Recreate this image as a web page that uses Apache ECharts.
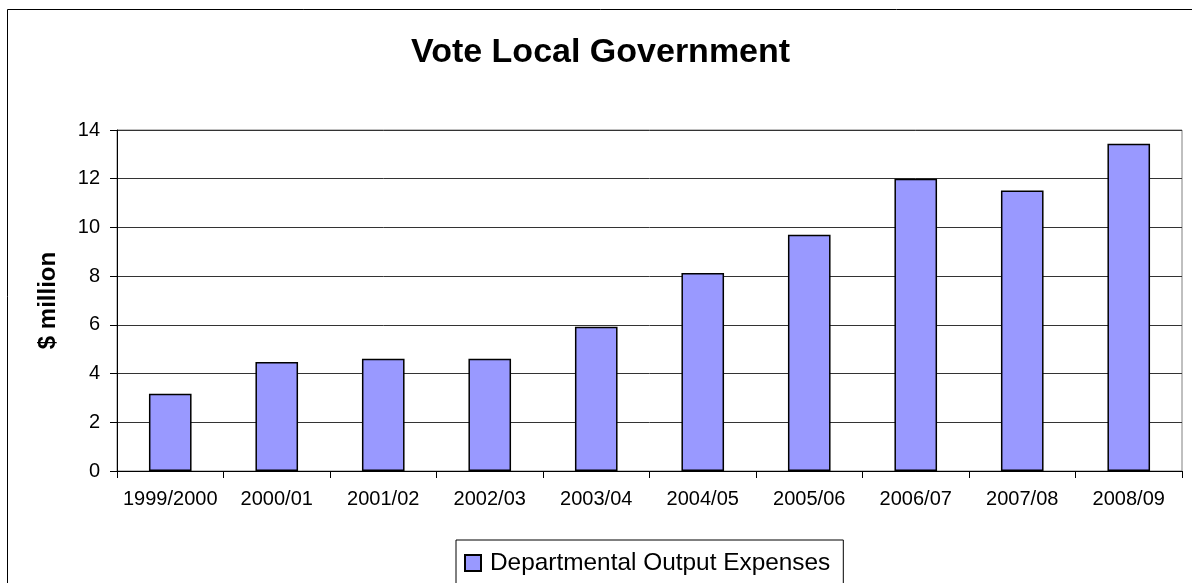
<!DOCTYPE html>
<html>
<head>
<meta charset="utf-8">
<script src="https://cdn.jsdelivr.net/npm/echarts@6/dist/echarts.min.js"></script>
<style>
  html, body { margin: 0; padding: 0; background: #fff; }
  #chart { width: 1192px; height: 583px; }
</style>
</head>
<body>
<div id="chart"></div>
<script>
// Fiscal years on the category axis
const years = ['1999/2000', '2000/01', '2001/02', '2002/03', '2003/04',
               '2004/05', '2005/06', '2006/07', '2007/08', '2008/09'];
// Departmental output expenses, $ million
const expenses = [3.17, 4.47, 4.61, 4.61, 5.92, 8.13, 9.70, 12.0, 11.52, 13.44];
const seriesName = 'Departmental Output Expenses';
const chartTitle = 'Vote Local Government';
const yAxisName = '$ million';

const FONT = 'Liberation Sans, Arial, sans-serif';
const chart = echarts.init(document.getElementById('chart'));

chart.setOption({
  animation: false,
  backgroundColor: '#fff',
  title: {
    text: chartTitle,
    left: 411,
    top: 36,
    padding: 0,
    textStyle: { fontFamily: FONT, fontSize: 34, fontWeight: 'bold', color: '#000' }
  },
  graphic: [{
    type: 'rect',
    shape: { x: 7.5, y: 9.5, width: 1200, height: 600 },
    style: { fill: 'none', stroke: '#000', lineWidth: 1 },
    silent: true,
    z: -1
  }],
  legend: {
    left: 456,
    top: 540,
    padding: [11, 13, 11, 8],
    borderColor: '#000',
    borderWidth: 1,
    itemWidth: 16,
    itemHeight: 16,
    icon: 'rect',
    textStyle: { fontFamily: FONT, fontSize: 24.4, color: '#000', padding: [2, 0, 0, 4] },
    data: [seriesName]
  },
  grid: {
    left: 117, right: 10, top: 130, bottom: 112,
    show: true,
    borderColor: '#808080',
    borderWidth: 1,
    containLabel: false
  },
  xAxis: {
    type: 'category',
    data: years,
    axisLine: { lineStyle: { color: '#000', width: 1 } },
    axisTick: { show: true, length: 7, alignWithLabel: false, lineStyle: { color: '#000' } },
    axisLabel: { fontFamily: FONT, fontSize: 20, color: '#000', margin: 18, interval: 0 }
  },
  yAxis: {
    type: 'value',
    min: 0, max: 14, interval: 2,
    name: yAxisName,
    nameLocation: 'middle',
    nameGap: 57,
    nameRotate: 90,
    nameTextStyle: { fontFamily: FONT, fontSize: 24, fontWeight: 'bold', color: '#000' },
    axisLine: { show: true, lineStyle: { color: '#000', width: 1 } },
    axisTick: { show: true, length: 7, lineStyle: { color: '#000' } },
    axisLabel: { fontFamily: FONT, fontSize: 20, color: '#000', margin: 17 },
    splitLine: { show: true, lineStyle: { color: '#333', width: 1 } }
  },
  series: [{
    name: seriesName,
    type: 'bar',
    data: expenses,
    barWidth: '40%',
    itemStyle: { color: '#9999FF', borderColor: '#000', borderWidth: 1.5 }
  }]
});
</script>
</body>
</html>
